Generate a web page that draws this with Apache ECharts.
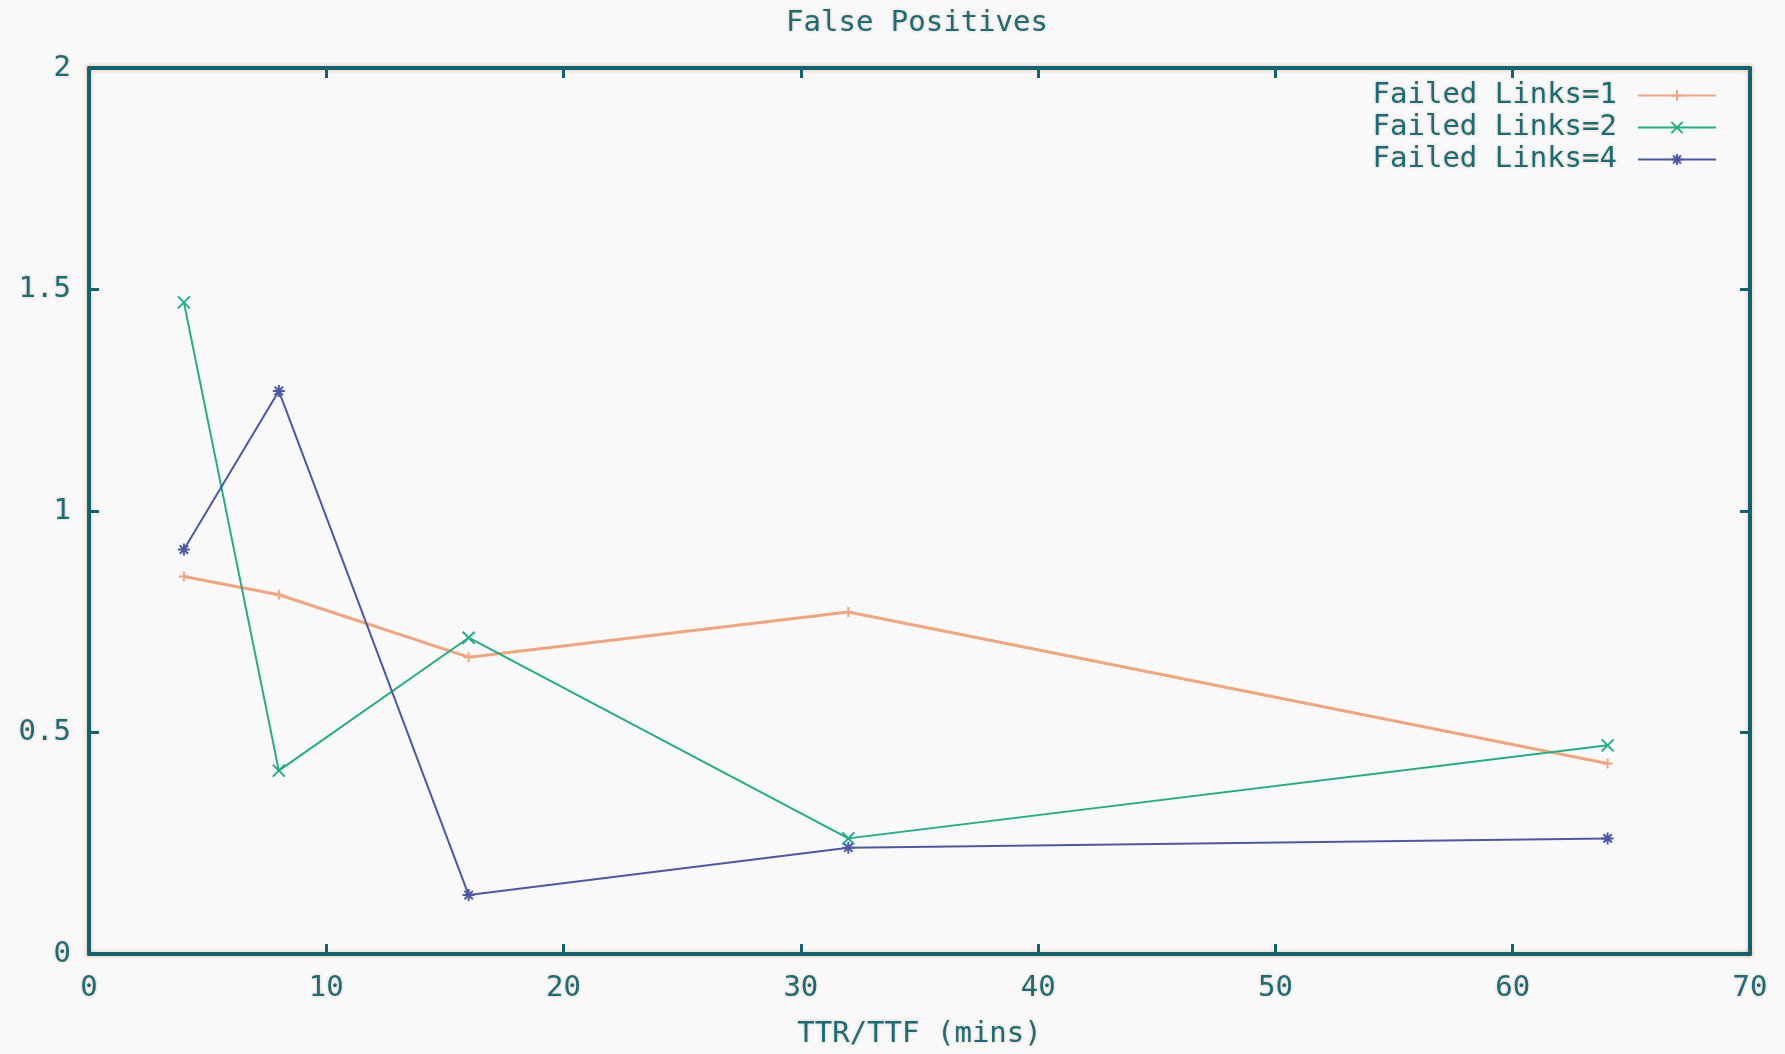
<!DOCTYPE html>
<html>
<head>
<meta charset="utf-8">
<script src="https://cdn.jsdelivr.net/npm/echarts@6/dist/echarts.min.js"></script>
<style>html,body{margin:0;padding:0;background:#f9f9f9;}#c{width:1785px;height:1054px;}</style>
</head>
<body>
<div id="c"></div>
<script>
const ttr = [4, 8, 16, 32, 64];
const links1 = [0.852, 0.811, 0.670, 0.772, 0.430];
const links2 = [1.471, 0.414, 0.714, 0.261, 0.471];
const links4 = [0.913, 1.271, 0.133, 0.240, 0.261];
const seriesNames = ['Failed Links=1', 'Failed Links=2', 'Failed Links=4'];
const xTicks = [0, 10, 20, 30, 40, 50, 60, 70];
const yTicks = [0, 0.5, 1, 1.5, 2];

const frame = '#0b6470';
const halo = 'rgba(240,130,80,0.55)';
const font = 'DejaVu Sans Mono';
const txt = {color: '#12707c', fontFamily: font, fontSize: 29, textShadowColor: halo, textShadowBlur: 3};

function pairs(ys) { return ttr.map((x, i) => [x, ys[i]]); }

const chart = echarts.init(document.getElementById('c'));
const axisLine = {show: true, onZero: false, lineStyle: {color: frame, width: 4, shadowColor: halo, shadowBlur: 4}};
const axisTick = {show: true, inside: true, length: 10, lineStyle: {color: frame, width: 3}};
const colors = ['#f4a47c', '#1fae86', '#4b58a8'];
const symbols = [
  'path://M5,0L5,10M0,5L10,5',
  'path://M0,0L10,10M10,0L0,10',
  'path://M5,0L5,10M0,5L10,5M1.5,1.5L8.5,8.5M8.5,1.5L1.5,8.5'
];
const data = [links1, links2, links4];

chart.setOption({
  backgroundColor: '#f9f9f9',
  animation: false,
  title: {
    text: 'False Positives', left: 912, top: 4, textAlign: 'center',
    textStyle: Object.assign({}, txt, {fontWeight: 'normal'})
  },
  legend: {
    orient: 'vertical', right: 68, top: 81, align: 'right', padding: 0,
    itemWidth: 78, itemHeight: 14, itemGap: 3,
    textStyle: Object.assign({}, txt, {lineHeight: 28, padding: [0, 16, 0, 0]}),
    data: seriesNames
  },
  grid: {left: 89, right: 35, top: 68, bottom: 96, show: false},
  xAxis: [{
    type: 'value', min: xTicks[0], max: xTicks[xTicks.length - 1], interval: 10,
    axisLine: axisLine, axisTick: axisTick, splitLine: {show: false},
    axisLabel: Object.assign({}, txt, {margin: 20}),
    name: 'TTR/TTF (mins)', nameLocation: 'middle', nameGap: 66,
    nameTextStyle: txt
  }, {
    type: 'value', position: 'top', min: 0, max: 70, interval: 10,
    axisLine: axisLine, axisTick: axisTick, axisLabel: {show: false}, splitLine: {show: false}
  }],
  yAxis: [{
    type: 'value', min: yTicks[0], max: yTicks[yTicks.length - 1], interval: 0.5,
    axisLine: axisLine, axisTick: axisTick, splitLine: {show: false},
    axisLabel: Object.assign({}, txt, {margin: 18})
  }, {
    type: 'value', position: 'right', min: 0, max: 2, interval: 0.5,
    axisLine: axisLine, axisTick: axisTick, axisLabel: {show: false}, splitLine: {show: false}
  }],
  series: data.map((d, i) => ({
    name: seriesNames[i], type: 'line', data: pairs(d),
    symbol: symbols[i], symbolSize: i === 0 ? 10 : 12, showSymbol: true,
    lineStyle: {color: colors[i], width: i === 0 ? 3 : 2},
    itemStyle: {color: colors[i], borderColor: colors[i], borderWidth: 2},
    z: 3 + i
  }))
});
</script>
</body>
</html>
